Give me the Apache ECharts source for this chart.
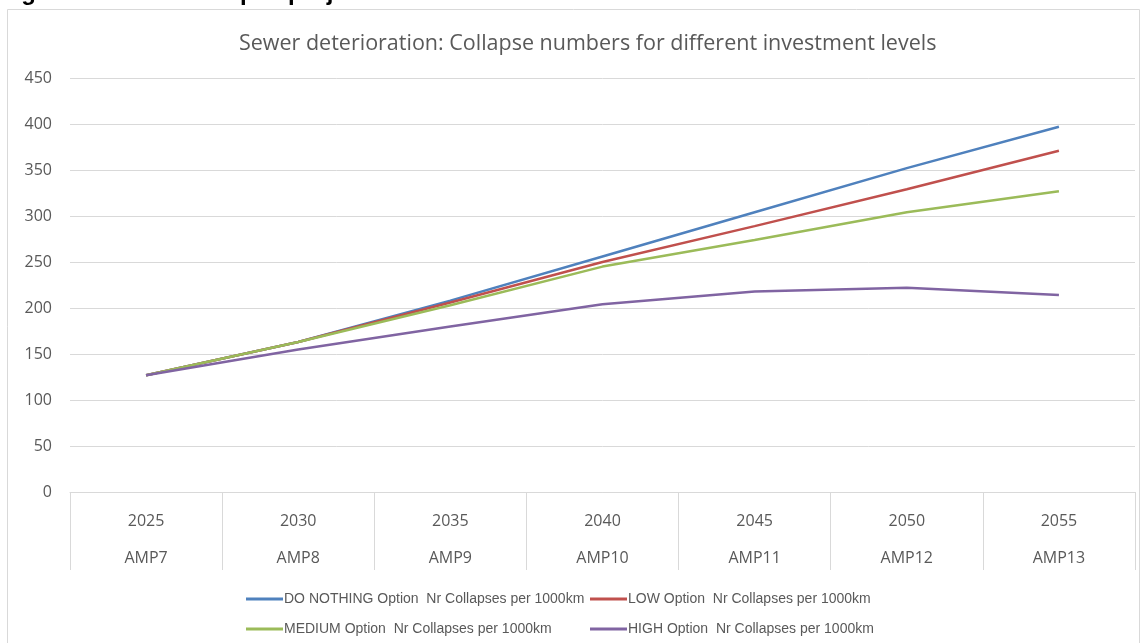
<!DOCTYPE html>
<html>
<head>
<meta charset="utf-8">
<script src="https://cdn.jsdelivr.net/npm/echarts@6/dist/echarts.min.js"></script>
<style>
  html, body { margin: 0; padding: 0; background: #ffffff; }
  #chart { width: 1146px; height: 643px; }
</style>
</head>
<body>
<div id="chart"></div>
<script>
// Period labels: year on the first line, AMP cycle below it
const years = ['2025', '2030', '2035', '2040', '2045', '2050', '2055'];
const amps = ['AMP7', 'AMP8', 'AMP9', 'AMP10', 'AMP11', 'AMP12', 'AMP13'];

// Collapses per 1000 km for each investment option
const doNothing = [127, 163, 208, 256, 304, 352, 397];
const lowOption = [127, 163, 206, 250, 289, 329, 371];
const mediumOption = [127, 163, 203, 245, 274, 304, 327];
const highOption = [127, 155, 180, 204, 218, 222, 214];

const seriesNames = [
  'DO NOTHING Option  Nr Collapses per 1000km',
  'LOW Option  Nr Collapses per 1000km',
  'MEDIUM Option  Nr Collapses per 1000km',
  'HIGH Option  Nr Collapses per 1000km'
];
const seriesData = [doNothing, lowOption, mediumOption, highOption];
const colors = ['#4F81BD', '#C0504D', '#9BBB59', '#8064A2'];

const yTicks = { min: 0, max: 450, interval: 50 };

const categories = years.map((y, i) => y + '\n' + amps[i]);

const chart = echarts.init(document.getElementById('chart'));

const legendPos = [
  { left: 241, top: 587 },
  { left: 585, top: 587 },
  { left: 241, top: 617 },
  { left: 585, top: 617 }
];

chart.setOption({
  animation: false,
  backgroundColor: '#ffffff',
  color: colors,
  title: {
    text: 'Sewer deterioration: Collapse numbers for different investment levels',
    left: 234,
    top: 28,
    textStyle: {
      fontFamily: 'Open Sans',
      fontSize: 21.5,
      fontWeight: 'normal',
      color: '#595959'
    }
  },
  legend: seriesNames.map((name, i) => ({
    data: [name],
    left: legendPos[i].left,
    top: legendPos[i].top,
    icon: 'rect',
    itemWidth: 37,
    itemHeight: 3,
    itemGap: 2,
    textStyle: {
      fontFamily: 'Liberation Sans',
      fontSize: 14,
      color: '#595959',
      padding: [0, 0, 0, -4]
    }
  })),
  grid: {
    left: 70,
    right: 11,
    top: 78,
    bottom: 151,
    containLabel: false
  },
  xAxis: {
    type: 'category',
    data: categories,
    boundaryGap: true,
    axisLine: { show: true, lineStyle: { color: '#d9d9d9', width: 1 } },
    axisTick: {
      show: true,
      length: 78,
      lineStyle: { color: '#d9d9d9', width: 1 }
    },
    axisLabel: {
      margin: 11,
      fontFamily: 'Open Sans',
      fontSize: 16,
      color: '#595959',
      lineHeight: 37
    }
  },
  yAxis: {
    type: 'value',
    min: yTicks.min,
    max: yTicks.max,
    interval: yTicks.interval,
    axisLine: { show: false },
    axisTick: { show: false },
    splitLine: { lineStyle: { color: '#d9d9d9', width: 1 } },
    axisLabel: {
      margin: 18,
      fontFamily: 'Open Sans',
      fontSize: 16,
      color: '#595959'
    }
  },
  series: seriesNames.map((name, i) => ({
    name: name,
    type: 'line',
    data: seriesData[i],
    symbol: 'none',
    smooth: false,
    lineStyle: { width: 2.5, color: colors[i] },
    itemStyle: { color: colors[i] }
  })),
  graphic: [
    {
      type: 'rect',
      shape: { x: 7.5, y: 9.5, width: 1132, height: 640 },
      style: { fill: 'none', stroke: '#d9d9d9', lineWidth: 1 },
      silent: true,
      z: -1
    },
    {
      type: 'text',
      left: 0,
      top: -19,
      style: {
        text: 'Figure 4: Sewer collapse projections',
        font: 'bold 24px "Liberation Sans"',
        fill: '#000000'
      },
      silent: true
    }
  ]
});
</script>
</body>
</html>
